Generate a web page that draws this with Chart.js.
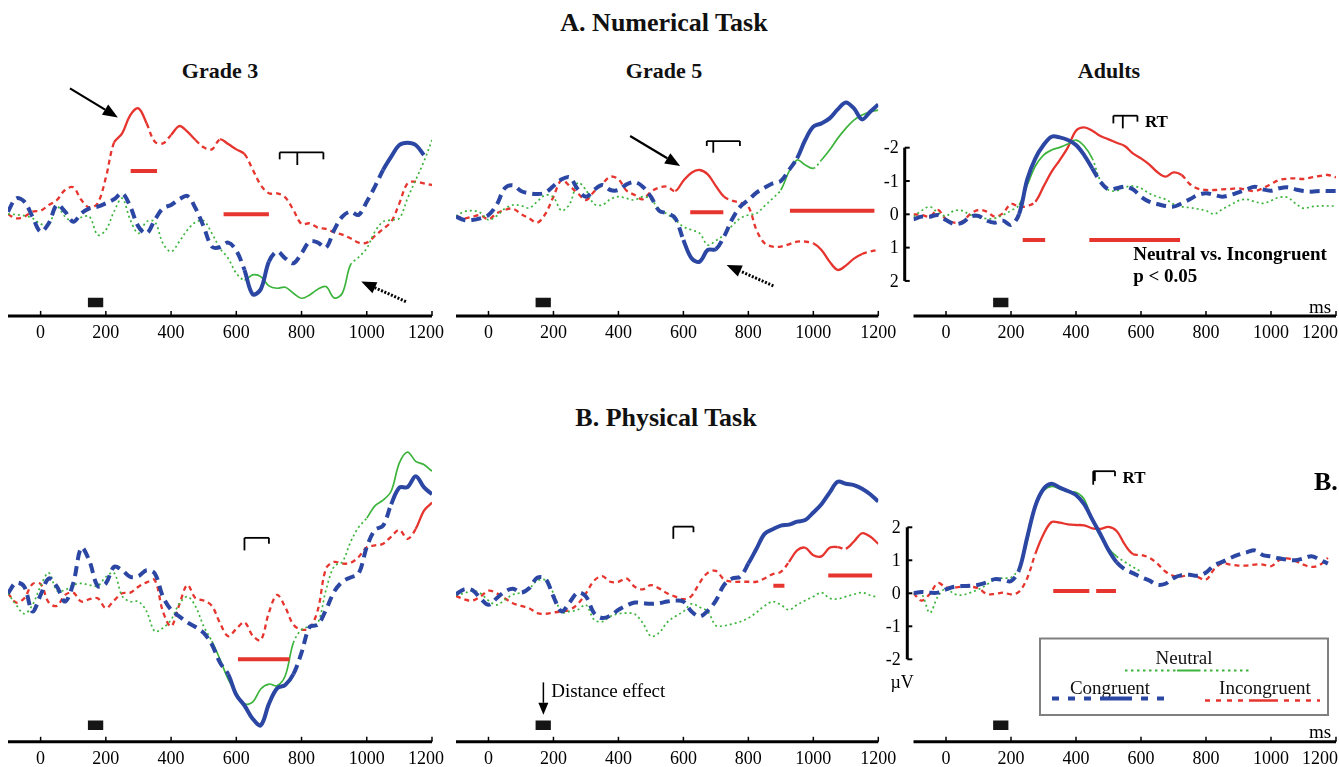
<!DOCTYPE html>
<html>
<head>
<meta charset="utf-8">
<title>ERP waveforms</title>
<script src="https://cdn.jsdelivr.net/npm/chart.js@4.4.1/dist/chart.umd.min.js"></script>
<style>
  body { margin: 0; background: #fff; }
  #page { position: relative; width: 1339px; height: 767px; overflow: hidden; font-family: "Liberation Serif", "Times New Roman", serif; }
  canvas { position: absolute; }
  .sec, .ttl { position: absolute; transform: translateX(-50%); white-space: nowrap; font-weight: bold; color: #111; }
  .sec { font-size: 26px; line-height: 26px; }
  .ttl { font-size: 22px; line-height: 22px; }
</style>
</head>
<body>
<div id="page">
  <div class="sec" style="left:664px; top:10px">A. Numerical Task</div>
  <div class="sec" style="left:666px; top:405px">B. Physical Task</div>
  <div class="ttl" style="left:220px; top:60px">Grade 3</div>
  <div class="ttl" style="left:664px; top:60px">Grade 5</div>
  <div class="ttl" style="left:1109px; top:60px">Adults</div>
</div>
<script>
// time points (ms) shared by every waveform
const times = [-100,-75,-50,-25,0,25,50,75,100,125,150,175,200,225,250,275,300,325,350,375,
  400,425,450,475,500,525,550,575,600,625,650,675,700,725,750,775,800,825,850,875,
  900,925,950,975,1000,1025,1050,1075,1100,1125,1150,1175,1200];
const tickValues = [0, 200, 400, 600, 800, 1000, 1200];
const yTickValues = [-2, -1, 0, 1, 2];

// A. Numerical task, Grade 3 (µV)
const g3aNeutral = [-0.01,0.01,0.04,0.12,0.29,0.32,-0.23,0.07,0.22,0.09,0.07,0.62,0.47,-0.08,-0.48,0.17,0.57,0.22,0.22,0.87,
  1.12,0.82,0.47,0.24,0.19,0.57,1.02,1.32,1.77,1.97,1.82,1.87,2.15,2.22,2.19,2.37,2.52,2.42,2.25,2.17,
  2.51,2.37,1.52,1.29,1.02,0.52,0.22,0.17,0.12,-0.48,-1.03,-1.58,-2.23];
const g3aCongruent = [-0.08,-0.48,-0.38,0.07,0.52,0.27,-0.28,-0.08,0.22,-0.03,-0.18,-0.23,-0.33,-0.45,-0.63,-0.23,0.37,0.57,0.17,-0.18,
  -0.28,-0.45,-0.55,-0.18,0.37,0.97,0.99,0.85,1.09,1.67,2.4,2.25,1.42,1.12,1.32,1.47,1.17,0.82,0.85,1.0,
  0.47,0.07,-0.08,0.02,-0.38,-0.83,-1.33,-1.73,-2.08,-2.15,-2.08,-1.78,null];
const g3aIncongruent = [0.0,0.12,0.07,-0.08,-0.11,-0.28,-0.43,-0.73,-0.81,-0.43,-0.2,-0.33,-1.1,-2.15,-2.43,-2.98,-3.18,-2.73,-2.18,-2.13,
  -2.38,-2.65,-2.48,-2.23,-2.01,-1.95,-2.25,-2.11,-1.95,-1.81,-1.35,-0.88,-0.63,-0.63,-0.51,-0.13,0.29,0.27,0.4,0.44,
  0.54,0.61,0.72,0.85,0.85,0.65,0.44,0.22,-0.33,-0.93,-0.98,-0.93,-0.88];
const g3aNeutralSig = [[625, 950]];
const g3aCongruentSig = [[630, 707], [1039, 1200]];
const g3aIncongruentSig = [[230, 330], [395, 480], [560, 630]];
const g3aBars = [[276, 357, -1.3], [561, 700, 0.0]];

// A. Numerical task, Grade 5
const g5aNeutral = [0.05,-0.08,-0.11,-0.05,0.17,0.05,-0.17,-0.28,-0.26,-0.19,-0.38,-0.58,-0.51,-0.11,-0.31,-0.95,-0.73,-0.31,-0.28,-0.45,
  -0.53,-0.48,-0.43,-0.53,-0.45,-0.15,-0.01,0.17,0.37,0.47,0.57,0.92,0.79,0.62,0.34,0.12,0.02,-0.03,-0.25,-0.48,
  -0.73,-1.28,-1.63,-1.48,-1.38,-1.63,-1.93,-2.28,-2.58,-2.83,-2.98,-3.08,-3.13];
const g5aCongruent = [0.07,0.17,0.17,0.12,0.02,-0.28,-0.78,-0.87,-0.7,-0.63,-0.61,-0.65,-0.85,-1.05,-1.11,-0.75,-0.53,-0.73,-0.88,-0.73,
  -0.73,-0.9,-0.97,-0.83,-0.53,-0.11,-0.03,0.12,0.77,1.32,1.42,1.07,1.05,0.67,0.15,-0.23,-0.43,-0.65,-0.8,-0.93,
  -1.0,-1.33,-1.68,-2.23,-2.63,-2.73,-2.88,-3.15,-3.36,-3.18,-2.85,-3.08,-3.3];
const g5aIncongruent = [0.05,0.12,0.07,0.03,0.15,-0.03,-0.13,-0.17,-0.01,0.12,0.25,-0.01,-0.53,-1.03,-0.85,-0.63,-0.43,-0.68,-0.91,-1.13,
  -1.05,-0.71,-0.58,-0.45,-0.68,-0.8,-0.83,-0.7,-1.01,-1.25,-1.33,-1.2,-0.85,-0.53,-0.41,-0.35,-0.23,0.47,0.87,0.97,
  0.97,0.9,0.82,0.82,0.87,1.07,1.42,1.67,1.54,1.33,1.19,1.12,1.07];
const g5aNeutralSig = [[890, 990], [1025, 1200]];
const g5aCongruentSig = [[590, 700], [955, 1200]];
const g5aIncongruentSig = [[570, 720], [1010, 1140]];
const g5aBars = [[621, 723, -0.06], [928, 1188, -0.11]];

// A. Numerical task, Adults
const adaNeutral = [0.07,-0.11,-0.23,-0.05,0.05,-0.11,-0.11,0.02,0.09,0.13,0.12,0.02,-0.11,-0.28,-0.88,-1.45,-1.78,-1.93,-2.01,-2.11,
  -2.23,-2.05,-1.68,-1.01,-0.73,-0.71,-0.81,-0.85,-0.78,-0.63,-0.53,-0.45,-0.31,-0.23,-0.2,-0.16,-0.11,-0.01,-0.15,-0.28,
  -0.41,-0.45,-0.38,-0.33,-0.41,-0.51,-0.51,-0.33,-0.18,-0.23,-0.25,-0.25,-0.25];
const adaCongruent = [0.15,0.07,0.07,0.02,0.17,0.29,0.25,0.07,0.05,0.19,0.25,0.19,0.32,-0.01,-1.05,-1.68,-2.08,-2.33,-2.31,-2.23,
  -2.08,-1.78,-1.38,-0.98,-0.75,-0.78,-0.83,-0.75,-0.53,-0.38,-0.31,-0.25,-0.23,-0.33,-0.45,-0.58,-0.63,-0.58,-0.53,-0.58,
  -0.66,-0.75,-0.83,-0.75,-0.71,-0.78,-0.81,-0.75,-0.7,-0.68,-0.7,-0.7,-0.7];
const adaIncongruent = [0.0,0.02,0.07,-0.13,0.15,0.25,0.22,-0.01,-0.13,-0.08,0.07,-0.03,-0.31,-0.23,-0.25,-0.38,-0.83,-1.28,-1.63,-2.01,
  -2.51,-2.61,-2.51,-2.35,-2.25,-2.15,-2.05,-1.83,-1.68,-1.5,-1.27,-1.13,-1.26,-1.18,-0.91,-0.77,-0.73,-0.73,-0.75,-0.76,
  -0.78,-0.73,-0.7,-0.78,-0.91,-1.03,-1.07,-1.08,-1.06,-1.11,-1.15,-1.18,-1.11];
const adaNeutralSig = [[225, 450]];
const adaCongruentSig = [[225, 450]];
const adaIncongruentSig = [[270, 735]];
const adaBars = [[236, 305, 0.77], [441, 720, 0.77]];

// B. Physical task, Grade 3
const g3bNeutral = [0,-0.35,-0.62,-0.35,0.22,0.62,0.08,0.1,0.25,0.3,0.25,0.22,0.5,0.62,-0.08,-0.25,-0.25,-0.55,-1.15,-1.05,
  -0.8,-0.32,-0.1,-0.4,-1.0,-1.45,-2.0,-2.6,-3.02,-3.35,-3.3,-2.9,-2.75,-2.8,-2.5,-1.5,-1.1,-1.0,-0.9,0.1,
  0.82,0.95,1.55,2.0,2.28,2.65,2.82,3.1,3.95,4.28,4.0,3.9,3.7];
const g3bCongruent = [0,0.32,0.2,-0.55,-0.05,0.45,0.2,-0.25,0.3,1.38,0.97,0.22,0.3,0.8,0.7,0.5,0.52,0.7,0.6,-0.1,
  -0.5,-0.7,-0.88,-1.02,-1.2,-1.55,-2.1,-2.45,-3.08,-3.4,-3.8,-4.0,-3.35,-2.88,-2.78,-2.45,-1.8,-1.02,-0.95,-0.5,
  0.05,0.35,0.48,0.6,1.4,1.92,2.05,2.7,3.2,3.22,3.55,3.22,3.0];
const g3bIncongruent = [0,-0.28,-0.15,0.28,0.28,-0.28,-0.38,-0.05,0.02,-0.25,-0.18,-0.15,-0.45,-0.22,0.0,0.02,0.2,0.33,0.4,-0.55,
  -1.0,-0.35,0.25,-0.15,-0.22,-0.38,-0.9,-1.3,-1.08,-0.88,-1.28,-1.42,-0.58,-0.05,-0.42,-0.95,-1.1,-1.05,-0.5,0.75,
  0.95,0.9,0.92,1.1,1.4,1.45,1.5,1.72,1.92,1.65,1.95,2.5,2.75];
const g3bNeutralSig = [[515, 765], [1000, 1200]];
const g3bCongruentSig = [[575, 785], [1085, 1200]];
const g3bIncongruentSig = [[1150, 1200]];
const g3bBars = [[605, 763, -2.0]];

// B. Physical task, Grade 5
const g5bNeutral = [-0.05,0.0,0.08,0.0,-0.22,-0.35,-0.2,-0.04,0.02,0.14,0.38,0.4,0.0,-0.57,-0.55,-0.5,-0.35,-0.8,-0.86,-0.7,
  -0.62,-0.6,-0.63,-0.9,-1.3,-1.2,-0.88,-0.7,-0.55,-0.32,-0.42,-0.55,-0.98,-0.98,-0.93,-0.86,-0.75,-0.58,-0.38,-0.25,
  -0.35,-0.5,-0.35,-0.22,-0.1,0.02,-0.15,-0.17,-0.1,-0.03,0.02,-0.06,-0.12];
const g5bCongruent = [-0.03,0.12,0.1,-0.15,-0.35,-0.15,0.05,0.14,0.02,0.15,0.47,0.45,-0.1,-0.55,-0.27,0.02,-0.1,-0.6,-0.75,-0.68,
  -0.5,-0.37,-0.28,-0.3,-0.32,-0.3,-0.25,-0.22,-0.25,-0.55,-0.7,-0.53,-0.22,0.25,0.45,0.5,0.9,1.35,1.8,1.94,
  2.05,2.08,2.17,2.22,2.45,2.7,3.05,3.38,3.32,3.28,3.17,3.0,2.78];
const g5bIncongruent = [-0.08,-0.18,-0.22,-0.1,0.08,0.0,-0.15,-0.3,-0.38,-0.45,-0.6,-0.62,-0.58,-0.55,-0.5,-0.32,0.0,0.38,0.52,0.35,
  0.35,0.45,0.2,0.12,0.25,0.15,0.0,-0.1,-0.18,-0.08,0.32,0.62,0.68,0.42,0.35,0.35,0.35,0.35,0.45,0.58,
  0.65,0.95,1.3,1.38,1.15,1.12,1.38,1.4,1.35,1.57,1.82,1.72,1.5];
const g5bNeutralSig = [];
const g5bCongruentSig = [[795, 1200]];
const g5bIncongruentSig = [[920, 1080], [1095, 1200]];
const g5bBars = [[877, 911, 0.23], [1046, 1181, 0.54]];

// B. Physical task, Adults
const adbNeutral = [0,-0.02,-0.59,-0.1,0.15,-0.02,-0.05,0.02,0.12,0.26,0.43,0.46,0.48,0.77,1.58,2.7,3.11,3.24,3.16,3.08,
  3.06,2.85,2.22,1.73,1.36,1.12,0.95,0.8,0.66,null,null,null,null,null,null,null,null,null,null,null,
  null,null,null,null,null,null,null,null,null,null,null,null,null];
const adbCongruent = [0,0.04,0.02,0.02,0.12,0.2,0.22,0.23,0.26,0.33,0.43,0.41,0.37,0.71,1.7,2.65,3.16,3.32,3.2,3.1,
  2.98,2.7,2.24,1.79,1.31,0.94,0.73,0.61,0.49,0.39,0.26,0.29,0.46,0.55,0.56,0.53,0.63,0.85,0.95,1.07,
  1.17,1.24,1.3,1.16,1.12,1.06,1.02,1.0,1.06,1.12,1.02,0.9,null];
const adbIncongruent = [0,-0.22,-0.02,0.31,0.18,0.18,0.2,0.2,0.15,-0.02,-0.02,0.02,-0.03,0.05,0.46,1.2,1.79,2.16,2.14,2.09,
  2.07,2.06,1.97,1.95,2.01,1.89,1.48,1.19,1.16,1.08,0.9,0.66,0.53,0.51,0.56,0.49,0.41,0.73,0.91,0.87,
  0.84,0.84,0.87,0.87,0.82,1.0,1.06,0.98,0.87,0.8,0.86,1.07,null];
const adbNeutralSig = [[215, 525]];
const adbCongruentSig = [[215, 535]];
const adbIncongruentSig = [[270, 565]];
const adbBars = [[330, 441, 0.07], [462, 523, 0.07]];

const stimulus = [145, 192];

const RED = '#e6352e', BLUE = '#2b47a3', GREEN = '#3cb43c';
const SERIF = '"Liberation Serif", "Times New Roman", serif';

// page layout of the 3 x 2 panels
const cols = [
  { left: 0, width: 445, areaL: 8, areaR: 432 },
  { left: 445, width: 455, areaL: 456, areaR: 878.3 },
  { left: 860, width: 479, areaL: 913.5, areaR: 1336 }
];
const rows = [
  { top: 50, height: 295, areaT: 94.4, areaB: 315.9, min: -3.6, max: 3.05, reverse: true, stimV: 2.65 },
  { top: 430, height: 337, areaT: 441.5, areaB: 741.8, min: -4.5, max: 4.6, reverse: false, stimV: -4.0 }
];

const panels = [
  { id: 'g3a', col: 0, row: 0, n: g3aNeutral, c: g3aCongruent, i: g3aIncongruent,
    nSig: g3aNeutralSig, cSig: g3aCongruentSig, iSig: g3aIncongruentSig, bars: g3aBars,
    rt: { x0: 733, x1: 867, top: -1.86, ticks: [[733, -1.65], [787, -1.48], [867, -1.65]] },
    arrows: [{ from: [90, -3.78], to: [237, -2.91] }, { from: [1120, 2.62], to: [983, 2.02], dash: [2, 1.6] }],
    texts: [] },
  { id: 'g5a', col: 1, row: 0, n: g5aNeutral, c: g5aCongruent, i: g5aIncongruent,
    nSig: g5aNeutralSig, cSig: g5aCongruentSig, iSig: g5aIncongruentSig, bars: g5aBars,
    rt: { x0: 672, x1: 774, top: -2.2, ticks: [[672, -2.05], [692, -1.85], [774, -2.05]] },
    arrows: [{ from: [436, -2.35], to: [590, -1.45] }, { from: [877, 2.15], to: [733, 1.52], dash: [2, 1.6] }],
    texts: [] },
  { id: 'ada', col: 2, row: 0, n: adaNeutral, c: adaCongruent, i: adaIncongruent,
    nSig: adaNeutralSig, cSig: adaCongruentSig, iSig: adaIncongruentSig, bars: adaBars,
    rt: { x0: 515, x1: 589, top: -2.96, ticks: [[515, -2.73], [544, -2.58], [589, -2.78]] },
    arrows: [],
    yAxis: { offset: 8.8, gap: 6 },
    texts: [
      { s: 'RT', t: 612, v: -2.63, font: 'bold 17px' },
      { s: 'Neutral vs. Incongruent', t: 576, v: 1.37, font: 'bold 19px' },
      { s: 'p < 0.05', t: 576, v: 2.02, font: 'bold 19px' },
      { s: 'ms', t: 1117, v: 2.97, font: '19px' }
    ] },
  { id: 'g3b', col: 0, row: 1, n: g3bNeutral, c: g3bCongruent, i: g3bIncongruent,
    nSig: g3bNeutralSig, cSig: g3bCongruentSig, iSig: g3bIncongruentSig, bars: g3bBars,
    rt: { x0: 625, x1: 700, top: 1.68, ticks: [[625, 1.3], [700, 1.5]] },
    arrows: [], texts: [] },
  { id: 'g5b', col: 1, row: 1, n: g5bNeutral, c: g5bCongruent, i: g5bIncongruent,
    nSig: g5bNeutralSig, cSig: g5bCongruentSig, iSig: g5bIncongruentSig, bars: g5bBars,
    rt: { x0: 569, x1: 631, top: 2.02, ticks: [[569, 1.65], [631, 1.85]] },
    arrows: [{ from: [169, -2.7], to: [169, -3.68], width: 1.5, head: [12, 5] }],
    texts: [{ s: 'Distance effect', t: 193, v: -3.13, font: '19px' }] },
  { id: 'adb', col: 2, row: 1, n: adbNeutral, c: adbCongruent, i: adbIncongruent,
    nSig: adbNeutralSig, cSig: adbCongruentSig, iSig: adbIncongruentSig, bars: adbBars,
    rt: { x0: 453, x1: 520, top: 3.7, ticks: [[453, 3.29], [458, 3.4], [520, 3.55]] },
    arrows: [],
    yAxis: { offset: 6.2, gap: 6.6, unit: true },
    legend: true,
    texts: [
      { s: 'RT', t: 543, v: 3.33, font: 'bold 17px' },
      { s: 'B.', t: 1132, v: 3.13, font: 'bold 26px' },
      { s: 'ms', t: 1117, v: -4.38, font: '19px' }
    ] }
];

function inRanges(ranges, x) {
  return ranges.some(r => x >= r[0] && x <= r[1]);
}

function wave(values, color, width, dash, solid, order) {
  return {
    data: times.map((t, k) => ({ x: t, y: values[k] })),
    borderColor: color,
    borderWidth: width,
    borderDash: dash,
    borderCapStyle: 'butt',
    pointRadius: 0,
    tension: 0.35,
    spanGaps: false,
    fill: false,
    order: order,
    segment: {
      borderDash: ctx => inRanges(solid, (ctx.p0.parsed.x + ctx.p1.parsed.x) / 2) ? [] : dash
    }
  };
}

function line(ctx, x0, y0, x1, y1) {
  ctx.beginPath(); ctx.moveTo(x0, y0); ctx.lineTo(x1, y1); ctx.stroke();
}

function arrow(ctx, x0, y0, x1, y1, dash, width, head) {
  const a = Math.atan2(y1 - y0, x1 - x0);
  const L = head[0], W = head[1];
  const bx = x1 - L * Math.cos(a), by = y1 - L * Math.sin(a);
  ctx.lineWidth = width;
  ctx.setLineDash(dash);
  line(ctx, x0, y0, bx, by);
  ctx.setLineDash([]);
  ctx.beginPath();
  ctx.moveTo(x1, y1);
  ctx.lineTo(bx + W * Math.sin(a), by - W * Math.cos(a));
  ctx.lineTo(bx - W * Math.sin(a), by + W * Math.cos(a));
  ctx.closePath();
  ctx.fill();
}

function legendLine(ctx, x0, x1, s0, s1, y, color, width, dash) {
  ctx.strokeStyle = color; ctx.lineWidth = width;
  ctx.setLineDash(dash);
  line(ctx, x0, y, s0, y);
  line(ctx, s1, y, x1, y);
  ctx.setLineDash([]);
  line(ctx, s0, y, s1, y);
}

function panelPlugin(p) {
  return {
    id: 'panel_' + p.id,
    afterDraw(chart) {
      const ctx = chart.ctx, xs = chart.scales.x, ys = chart.scales.y;
      const X = v => xs.getPixelForValue(v), Y = v => ys.getPixelForValue(v);
      const base = chart.chartArea.bottom;
      ctx.save();
      ctx.strokeStyle = '#000';
      ctx.fillStyle = '#000';

      // time axis
      ctx.lineWidth = 3;
      line(ctx, X(-100), base, X(1200), base);
      ctx.lineWidth = 1.5;
      tickValues.forEach(t => line(ctx, X(t), base, X(t), base - 5));
      ctx.font = '18px ' + SERIF;
      ctx.textAlign = 'center';
      ctx.textBaseline = 'alphabetic';
      tickValues.forEach(t => {
        const s = String(t), w = ctx.measureText(s).width;
        ctx.fillText(s, Math.min(X(t), chart.width - w / 2 - 1), base + 22);
      });

      // voltage axis (adults only)
      if (p.yAxis) {
        const ax = chart.chartArea.left - p.yAxis.offset;
        ctx.lineWidth = 3;
        line(ctx, ax, Y(-2), ax, Y(2));
        ctx.lineWidth = 2;
        yTickValues.forEach(v => line(ctx, ax, Y(v), ax + 5, Y(v)));
        ctx.textAlign = 'right';
        ctx.textBaseline = 'middle';
        yTickValues.forEach(v => ctx.fillText(String(v), ax - p.yAxis.gap, Y(v) + 1));
        if (p.yAxis.unit) {
          ctx.textAlign = 'center';
          ctx.textBaseline = 'alphabetic';
          ctx.fillText('\u00b5V', X(-135), Y(-2.87));
        }
      }

      // RT bracket
      const r = p.rt;
      ctx.lineWidth = 1.8;
      line(ctx, X(r.x0), Y(r.top), X(r.x1), Y(r.top));
      r.ticks.forEach(k => line(ctx, X(k[0]), Y(r.top), X(k[0]), Y(k[1])));

      // arrows
      p.arrows.forEach(a => arrow(ctx, X(a.from[0]), Y(a.from[1]), X(a.to[0]), Y(a.to[1]),
        a.dash || [], a.width || (a.dash ? 3 : 2.2), a.head || [15, 6]));

      // labels
      ctx.textAlign = 'left';
      ctx.textBaseline = 'alphabetic';
      p.texts.forEach(tx => {
        ctx.font = tx.font + ' ' + SERIF;
        ctx.fillText(tx.s, X(tx.t), Y(tx.v));
      });

      if (p.legend) {
        ctx.strokeStyle = '#808080';
        ctx.lineWidth = 2;
        ctx.strokeRect(180, 208.5, 288, 76.5);
        ctx.font = '19px ' + SERIF;
        ctx.textAlign = 'center';
        ctx.fillStyle = '#111';
        ctx.fillText('Neutral', 324, 233.5);
        ctx.fillText('Congruent', 250, 263.5);
        ctx.fillText('Incongruent', 405, 264);
        legendLine(ctx, 265, 390, 317, 338, 240.5, GREEN, 2, [2.5, 3.5]);
        legendLine(ctx, 192, 313, 242, 265, 268.5, BLUE, 4, [7, 9]);
        legendLine(ctx, 345, 460, 391, 413, 270.5, RED, 2.5, [5, 6]);
      }
      ctx.restore();
    }
  };
}

const page = document.getElementById('page');
panels.forEach(p => {
  const c = cols[p.col], r = rows[p.row];
  const cv = document.createElement('canvas');
  cv.width = c.width; cv.height = r.height;
  cv.style.left = c.left + 'px'; cv.style.top = r.top + 'px';
  cv.style.width = c.width + 'px'; cv.style.height = r.height + 'px';
  page.appendChild(cv);

  const datasets = [];
  p.bars.forEach(b => datasets.push({
    data: [{ x: b[0], y: b[2] }, { x: b[1], y: b[2] }],
    borderColor: RED, borderWidth: 4, borderCapStyle: 'butt', pointRadius: 0, order: 0
  }));
  datasets.push({
    data: [{ x: stimulus[0], y: r.stimV }, { x: stimulus[1], y: r.stimV }],
    borderColor: '#151515', borderWidth: 9.5, borderCapStyle: 'butt', pointRadius: 0, order: 0
  });
  datasets.push(wave(p.c, BLUE, 4, [10, 6], p.cSig, 1));
  datasets.push(wave(p.n, GREEN, 1.7, [2, 3], p.nSig, 2));
  datasets.push(wave(p.i, RED, 2.3, [5, 4], p.iSig, 3));

  new Chart(cv, {
    type: 'line',
    data: { datasets },
    options: {
      responsive: false,
      animation: false,
      devicePixelRatio: 1,
      events: [],
      layout: {
        autoPadding: false,
        padding: {
          left: c.areaL - c.left,
          right: c.left + c.width - c.areaR,
          top: r.areaT - r.top,
          bottom: r.top + r.height - r.areaB
        }
      },
      plugins: { legend: { display: false }, tooltip: { enabled: false } },
      scales: {
        x: { type: 'linear', min: -100, max: 1200, display: false },
        y: { min: r.min, max: r.max, reverse: r.reverse, display: false }
      }
    },
    plugins: [panelPlugin(p)]
  });
});
</script>
</body>
</html>
